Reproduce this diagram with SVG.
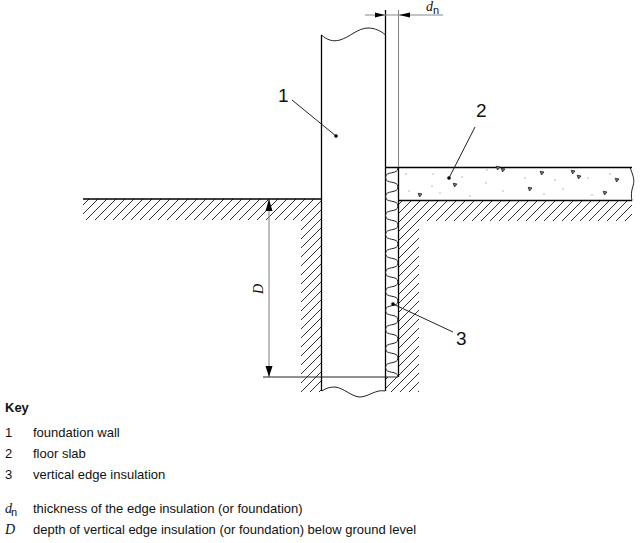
<svg xmlns="http://www.w3.org/2000/svg" width="641" height="543" viewBox="0 0 641 543">
<style>
.h{stroke:#000;stroke-width:1.3;fill:none}
.t{stroke:#222;stroke-width:1;fill:none}
.g{stroke:#888;stroke-width:1.1;fill:none}
.k{font-family:"Liberation Sans",Arial,sans-serif;font-size:13px;fill:#111}
.b{font-weight:bold}
.sub{font-family:"Liberation Sans",Arial,sans-serif;font-size:11px;fill:#111}
.n{font-family:"Liberation Sans",Arial,sans-serif;font-size:19px;fill:#111}
.i{font-family:"Liberation Serif","Times New Roman",serif;font-style:italic;font-size:14px;fill:#111}
.a{fill:#000}
.s{fill:#999}
</style>
<defs>
<pattern id="hatch" patternUnits="userSpaceOnUse" width="9" height="9">
<path d="M-1 10L10 -1M-1 1L1 -1M8 10L10 8" stroke="#333" stroke-width="1"/>
</pattern>
<path id="tri" d="M-1.800 -1.800L2 -1L-.5 2Z" fill="#777" stroke="#222" stroke-width=".8"/>
</defs>
<rect x="83" y="199" width="238" height="21" fill="url(#hatch)"/>
<rect x="301" y="220" width="20" height="172" fill="url(#hatch)"/>
<rect x="398" y="200" width="234" height="21" fill="url(#hatch)"/>
<rect x="398" y="221" width="21" height="171" fill="url(#hatch)"/>
<rect x="385" y="377" width="13" height="15" fill="url(#hatch)"/>
<g id="foundation-wall">
<path d="M321.500 391V35" class="h"/>
<path d="M385.500 391V10" class="h"/>
<path d="M321.500 35C327 40 333 42 340 40C350 37 358 28 368 28C375 28 381 31 385.500 35" class="t"/>
<path d="M322 391C326 388 330 387 335 387C344 388 352 397 360 397C368 397 376 389 385 391" class="t"/>
</g>
<g id="floor-slab">
<path d="M83 199H321.500" class="h"/>
<path d="M385.500 167.500H632M398.500 200.500H632" class="h"/>
<path d="M398.500 10V167" class="g"/>
<path d="M630 167.500C633 175 635 180 633 186C631 192 631 196 632 200.500" class="t"/>
<g>
<use href="#tri" x="420" y="195"/><use href="#tri" x="455" y="185"/><use href="#tri" x="503" y="170"/>
<use href="#tri" x="530" y="189"/><use href="#tri" x="542" y="173"/><use href="#tri" x="573" y="172"/>
<use href="#tri" x="579" y="177"/><use href="#tri" x="617" y="180"/><use href="#tri" x="605" y="193"/>
<use href="#tri" x="498" y="168"/>
</g>
<g class="s">
<circle cx="406" cy="174" r=".7"/><circle cx="433" cy="174" r=".7"/><circle cx="432" cy="186" r=".7"/>
<circle cx="409" cy="191" r=".7"/><circle cx="462" cy="177" r=".7"/><circle cx="487" cy="170" r=".7"/>
<circle cx="525" cy="178" r=".7"/><circle cx="486" cy="183" r=".7"/><circle cx="503" cy="191" r=".7"/>
<circle cx="555" cy="180" r=".7"/><circle cx="563" cy="189" r=".7"/><circle cx="588" cy="178" r=".7"/>
<circle cx="610" cy="174" r=".7"/><circle cx="592" cy="195" r=".7"/><circle cx="544" cy="194" r=".7"/>
<circle cx="470" cy="196" r=".7"/><circle cx="440" cy="193" r=".7"/>
</g>
</g>
<g id="edge-insulation">
<path d="M398.500 167V377" class="h"/>
<path d="M398 168c0 7 -12.500 2.500 -12.500 9.500c0 7 12.500 2.500 12.500 9.500c0 7 -12.500 2.500 -12.500 9.500c0 7 12.500 2.500 12.500 9.500c0 7 -12.500 2.500 -12.500 9.500c0 7 12.500 2.500 12.500 9.500c0 7 -12.500 2.500 -12.500 9.500c0 7 12.500 2.500 12.500 9.500c0 7 -12.500 2.500 -12.500 9.500c0 7 12.500 2.500 12.500 9.500c0 7 -12.500 2.500 -12.500 9.500c0 7 12.500 2.500 12.500 9.500c0 7 -12.500 2.500 -12.500 9.500c0 7 12.500 2.500 12.500 9.500c0 7 -12.500 2.500 -12.500 9.500c0 7 12.500 2.500 12.500 9.500c0 7 -12.500 2.500 -12.500 9.500c0 7 12.500 2.500 12.500 9.500c0 7 -12.500 2.500 -12.500 9.500c0 7 12.500 2.500 12.500 9.500c0 7 -12.500 2.500 -12.500 9.500c0 7 12.500 2.500 12.500 9.500" class="t"/>
</g>
<g id="connectors">
<path d="M336 136L292 100" class="t"/>
<circle cx="336" cy="136" r="1.800" class="a"/>
<path d="M449 178L475 127" class="t"/>
<circle cx="449" cy="178" r="1.800" class="a"/>
<path d="M393 304L453 332" class="t"/>
<circle cx="393" cy="304" r="1.800" class="a"/>
<path d="M365 15H443" class="g"/>
<path d="M375 12.500L385 15L375 17.500Z" class="a"/>
<path d="M410 12.500L399 15L410 17.500Z" class="a"/>
<path d="M269 200V377" class="g"/>
<path d="M269 199L272.500 211H265.500Z" class="a"/>
<path d="M269 377L265.500 366H272.500Z" class="a"/>
<path d="M263 377H398" class="t"/>
</g>
<g id="labels">
<text class="n" x="278" y="102">1</text>
<text class="n" x="476" y="117">2</text>
<text class="n" x="456" y="345">3</text>
<text class="i" x="426" y="11">d</text>
<text class="sub" x="433" y="14">n</text>
<text class="i" transform="translate(263 294) rotate(-90)">D</text>
</g>
<g id="key">
<text class="k b" x="5" y="412">Key</text>
<text class="k" x="5" y="437">1</text><text class="k" x="33" y="437">foundation wall</text>
<text class="k" x="5" y="458">2</text><text class="k" x="33" y="458">floor slab</text>
<text class="k" x="5" y="479">3</text><text class="k" x="33" y="479">vertical edge insulation</text>
<text class="i" x="5" y="513">d</text><text class="sub" x="11" y="516">n</text>
<text class="k" x="33" y="513">thickness of the edge insulation (or foundation)</text>
<text class="i" x="5" y="534">D</text>
<text class="k" x="33" y="534">depth of vertical edge insulation (or foundation) below ground level</text>
</g>
</svg>
